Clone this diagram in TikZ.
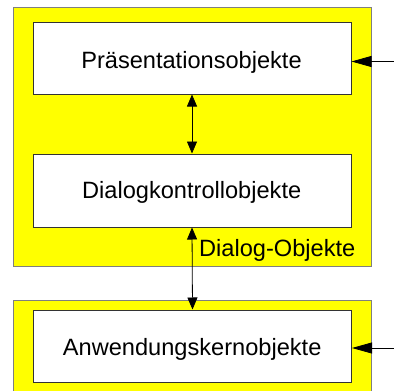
\documentclass[tikz,border=0pt]{standalone}
\usepackage{fontspec}
\setmainfont{Liberation Sans}
\usetikzlibrary{arrows.meta}
\definecolor{fillyellow}{HTML}{FFFF00}
\definecolor{framegray}{HTML}{7F7F7F}
\definecolor{boxline}{HTML}{333333}
\tikzset{
  layer/.style={draw=framegray, fill=fillyellow, line width=1pt, inner sep=0pt},
  objbox/.style={draw=boxline, fill=white, line width=1pt, inner sep=0pt,
    minimum width=318pt, minimum height=72pt},
  objtext/.style={anchor=base, inner sep=0pt, font=\fontsize{23.6}{28}\selectfont},
  layertext/.style={anchor=base west, inner sep=0pt, font=\fontsize{23.6}{28}\selectfont},
  link/.style={draw=black, line width=0.8pt,
    {Triangle[length=12pt,width=10pt]}-{Triangle[length=12pt,width=10pt]}},
  inlink/.style={draw=black, line width=0.8pt, -{Triangle[length=20pt,width=11pt]}}
}
\begin{document}
\begin{tikzpicture}[x=1pt,y=-1pt]
  \useasboundingbox (0,0) rectangle (394,391);
  \clip (0,0) rectangle (394,391);

  % outer layers
  \node[layer, minimum width=358pt, minimum height=259pt] (dialog) at (192,137) {};
  \node[layer, minimum width=358pt, minimum height=95pt] (kern) at (192,347.5) {};

  % object boxes
  \node[objbox] (pres) at (192,58) {};
  \node[objbox, minimum height=73pt] (ctrl) at (192,190.5) {};
  \node[objbox] (app) at (192.5,346) {};

  % texts
  \node[objtext] (prest) at (191.5,68.3) {Präsentationsobjekte};
  \node[objtext] (ctrlt) at (191.7,198) {Dialogkontrollobjekte};
  \node[objtext] (appt) at (192.2,355) {Anwendungskernobjekte};
  \node[layertext] (dialogt) at (199,256.7) {Dialog-Objekte};

  % connections
  \draw[link] (pres.south) -- (ctrl.north);
  \draw[link] (ctrl.south) -- (app.north);

  \coordinate (inpres) at (394,61.5);
  \coordinate (inapp) at (394,348);
  \draw[inlink] (inpres) -- (pres.east |- inpres);
  \draw[inlink] (inapp) -- (app.east |- inapp);
\end{tikzpicture}
\end{document}
